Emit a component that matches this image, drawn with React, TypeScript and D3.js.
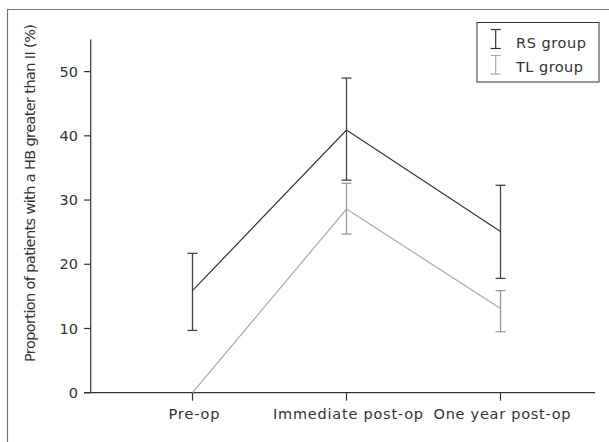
import React from "react";
import * as d3 from "d3";

const categories = ["Pre-op", "Immediate post-op", "One year post-op"];
const categoryWidths = [51, 150, 137];
const rsMean = [15.9, 40.9, 25.1];
const rsLow = [9.7, 33.1, 17.8];
const rsHigh = [21.7, 49.0, 32.3];
const tlMean = [0, 28.6, 13.1];
const tlLow: (number | null)[] = [null, 24.7, 9.5];
const tlHigh: (number | null)[] = [null, 32.6, 15.9];
const yTicks = [0, 10, 20, 30, 40, 50];

const FONT = "'DejaVu Sans', sans-serif";

export default function App() {
  const W = 609, H = 442;
  const x = d3.scalePoint<string>().domain(categories).range([192.5, 500.5]);
  const y = d3.scaleLinear().domain([0, 55]).range([392.7, 39.5]);
  const axisX0 = 90.7;
  const line = d3.line<number>().x((_, i) => x(categories[i])!).y((d) => y(d));

  const errBar = (cx: number, lo: number, hi: number, color: string, key: string) => (
    <g key={key} stroke={color} strokeWidth={1.3}>
      <line x1={cx} x2={cx} y1={y(lo)} y2={y(hi)} />
      <line x1={cx - 5} x2={cx + 5} y1={y(lo)} y2={y(lo)} />
      <line x1={cx - 5} x2={cx + 5} y1={y(hi)} y2={y(hi)} />
    </g>
  );

  return (
    <svg width={W} height={H} style={{ position: "absolute", left: 0, top: 0 }} fontFamily={FONT}>
      <rect x={0} y={0} width={W} height={H} fill="#fff" />
      {/* frame */}
      <line x1={7} x2={W} y1={9.5} y2={9.5} stroke="#777" strokeWidth={1.2} />
      <line x1={7.5} x2={7.5} y1={9} y2={H} stroke="#777" strokeWidth={1.2} />
      {/* axes */}
      <line x1={axisX0} x2={axisX0} y1={y(55)} y2={y(0)} stroke="#333" strokeWidth={1.2} />
      <line x1={84} x2={595} y1={y(0)} y2={y(0)} stroke="#333" strokeWidth={1.2} />
      {yTicks.map((t) => (
        <g key={t}>
          <line x1={84} x2={axisX0} y1={y(t)} y2={y(t)} stroke="#333" strokeWidth={1.2} />
          <text x={78} y={y(t)} dy="0.36em" textAnchor="end" fontSize={14.5} fill="#333">{t}</text>
        </g>
      ))}
      {categories.map((c, i) => (
        <g key={c}>
          <line x1={x(c)} x2={x(c)} y1={y(0)} y2={y(0) + 8} stroke="#333" strokeWidth={1.2} />
          <text x={x(c)! + 1.5} y={y(0) + 26.5} textAnchor="middle" fontSize={14.5} fill="#333"
            textLength={categoryWidths[i]} lengthAdjust="spacing">{c}</text>
        </g>
      ))}
      <text transform={`translate(35,193) rotate(-90)`} textAnchor="middle" fontSize={14.5} fill="#333"
        textLength={338} lengthAdjust="spacing">
        Proportion of patients with a HB greater than II (%)
      </text>
      {/* series */}
      <path d={line(tlMean)!} fill="none" stroke="#aaa" strokeWidth={1.2} />
      <path d={line(rsMean)!} fill="none" stroke="#333" strokeWidth={1.2} />
      {categories.map((c, i) =>
        tlLow[i] != null ? errBar(x(c)!, tlLow[i] as number, tlHigh[i] as number, "#999", "tl" + i) : null
      )}
      {categories.map((c, i) => errBar(x(c)!, rsLow[i], rsHigh[i], "#444", "rs" + i))}
      {/* legend */}
      <rect x={477} y={22.5} width={122} height={59.5} fill="#fff" stroke="#333" strokeWidth={1} />
      <g stroke="#333" strokeWidth={1.2}>
        <line x1={495.7} x2={495.7} y1={29.5} y2={48.5} />
        <line x1={490.7} x2={500.7} y1={29.5} y2={29.5} />
        <line x1={490.7} x2={500.7} y1={48.5} y2={48.5} />
      </g>
      <g stroke="#aaa" strokeWidth={1.2}>
        <line x1={495.7} x2={495.7} y1={55.5} y2={74} />
        <line x1={490.7} x2={500.7} y1={55.5} y2={55.5} />
        <line x1={490.7} x2={500.7} y1={74} y2={74} />
      </g>
      <text x={516} y={47.5} fontSize={14.5} fill="#333" textLength={70} lengthAdjust="spacing">RS group</text>
      <text x={516} y={71.7} fontSize={14.5} fill="#333" textLength={67} lengthAdjust="spacing">TL group</text>
    </svg>
  );
}
